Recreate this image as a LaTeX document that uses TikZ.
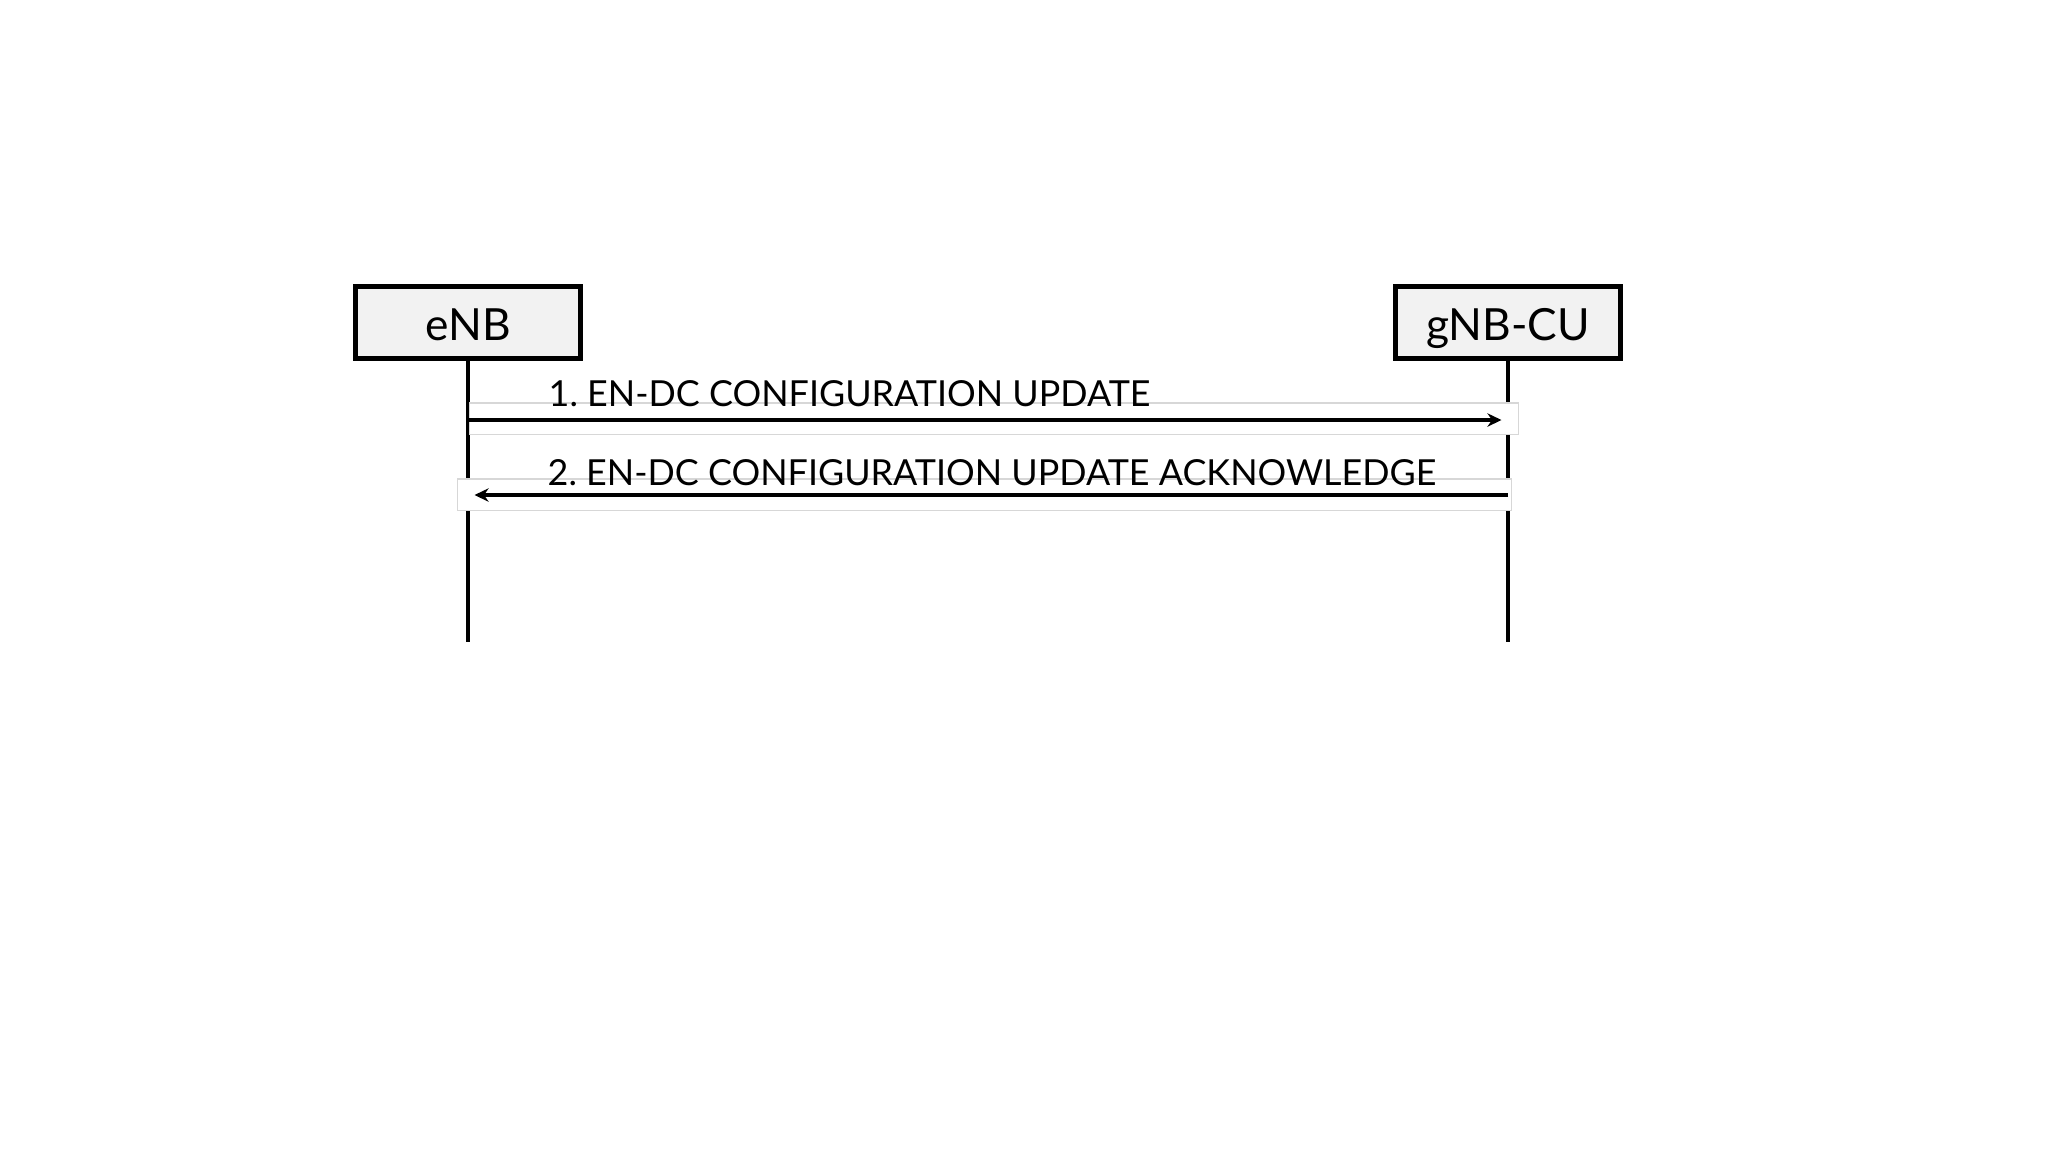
\documentclass[tikz,border=0pt]{standalone}
\usepackage{fontspec}
\setmainfont{Lato}
\usetikzlibrary{arrows.meta, positioning, calc}
\definecolor{boxgray}{RGB}{242, 242, 242}
\definecolor{framegray}{RGB}{215, 215, 215}
\frenchspacing

\begin{document}
\begin{tikzpicture}[
  x=0.01cm, y=-0.01cm,
  entity/.style={rectangle, draw=black, fill=boxgray, line width=1.45pt,
                 minimum width=2.25cm, minimum height=0.72cm, inner sep=0pt,
                 text height=0.35cm, text depth=0cm,
                 font=\fontsize{12.6}{15}\selectfont},
  lifeline/.style={line width=1.35pt},
  msgframe/.style={draw=framegray, fill=white, line width=0.3pt},
  msg/.style={-{Stealth[length=4pt, width=3.8pt]}, line width=1.3pt, shorten >=0.065cm},
  msglabel/.style={anchor=base west, inner sep=0pt, font=\fontsize{10.2}{12.3}\selectfont}
]
  \useasboundingbox (0,0) rectangle (2048,1153);
  \node[entity] (enb) at (468,322.5) {eNB};
  \node[entity] (gnbcu) at (1508,322.5) {gNB-CU};
  % lifelines
  \coordinate (enbend) at (468,642);
  \coordinate (gnbend) at (1508,642);
  \draw[lifeline] (enb.south) -- (enbend);
  \draw[lifeline] (gnbcu.south) -- (gnbend);
  % message 1
  \coordinate (m1) at (0,420);
  \node[msgframe, minimum width=10.48cm, minimum height=0.31cm, inner sep=0pt] (frame1) at (994,418.5) {};
  \draw[msg] (enb |- m1) -- (gnbcu |- m1);
  \node[msglabel] (lab1) at (548,406) {1. EN-DC CONFIGURATION UPDATE};
  % message 2
  \coordinate (m2) at (0,495);
  \node[msgframe, minimum width=10.53cm, minimum height=0.31cm, inner sep=0pt] (frame2) at (984.5,494.5) {};
  \draw[msg] (gnbcu |- m2) -- (enb |- m2);
  \node[msglabel] (lab2) at (547,485) {2. EN-DC CONFIGURATION UPDATE ACKNOWLEDGE};
\end{tikzpicture}
\end{document}
